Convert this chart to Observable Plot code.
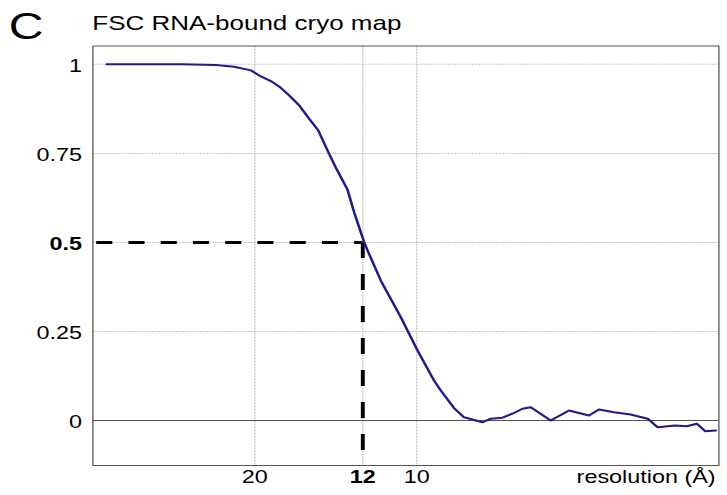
<!DOCTYPE html>
<html><head><meta charset="utf-8">
<script src="https://cdn.jsdelivr.net/npm/d3@7"></script>
<script src="https://cdn.jsdelivr.net/npm/@observablehq/plot@0.6"></script>
<style>
html,body{margin:0;padding:0;background:#fff;overflow:hidden}
#wrap{width:559px;transform:scaleX(1.3);transform-origin:0 0;font-family:"Liberation Sans",Arial,Helvetica,sans-serif;}
</style></head>
<body>
<div id="wrap">
<div id="chart"></div>
</div>
<script>
// ---- data ----
const panelLabel = "C";
const title = "FSC RNA-bound cryo map";
const xLabel = "resolution (Å)";
// spatial frequency (1/Å)
const frequency = [0.00423, 0.0179, 0.02716, 0.03796, 0.04361, 0.04877, 0.05185, 0.05494, 0.0575, 0.06059,
  0.06367, 0.06676, 0.06954, 0.07244, 0.075, 0.07861, 0.08065, 0.08373, 0.08478, 0.08889,
  0.09506, 0.10022, 0.10534, 0.10741, 0.11151, 0.1146, 0.12028, 0.12284, 0.12645, 0.12954,
  0.13262, 0.13519, 0.14136, 0.14701, 0.15318, 0.15627, 0.1609, 0.16605, 0.1713, 0.17438,
  0.17978, 0.18339, 0.18648, 0.18904, 0.19235];
// Fourier shell correlation
const fsc = [1.000, 1.000, 1.000, 0.998, 0.993, 0.983, 0.966, 0.953, 0.938, 0.913,
  0.885, 0.847, 0.815, 0.758, 0.710, 0.648, 0.585, 0.501, 0.478, 0.393,
  0.290, 0.197, 0.112, 0.084, 0.035, 0.009, -0.005, 0.005, 0.008, 0.019,
  0.033, 0.037, 0.000, 0.028, 0.014, 0.031, 0.023, 0.017, 0.005, -0.019,
  -0.014, -0.016, -0.009, -0.030, -0.028];
const yTicks = [1, 0.75, 0.25, 0];
const yTicksBold = [0.5];
const xTickRes = [20, 10];
const xTickResBold = [12];
const threshold = 0.5;
const cutoffRes = 12;

// ---- build ----
const data = frequency.map((f, i) => ({f, v: fsc[i]}));
const W = 559, H = 495;
const xDomain = [0, 0.1933];
const yDomain = [-0.1264, 1.0515];
const font = "Liberation Sans, Arial, Helvetica, sans-serif";

const axisCommon = {tickSize: 0, label: null, fontSize: 18};
const plot = Plot.plot({
  width: W, height: H,
  marginLeft: 71, marginRight: 6.5, marginTop: 45.5, marginBottom: 30,
  style: {fontFamily: font, fontSize: "18px", color: "#000", background: "#fff"},
  x: {domain: xDomain, axis: null},
  y: {domain: yDomain, axis: null},
  marks: [
    Plot.gridX([...xTickRes, ...xTickResBold].map(r => 1 / r), {stroke: "#c4c4c4", strokeOpacity: 1, strokeDasharray: "2,1"}),
    Plot.gridY([...yTicks, ...yTicksBold].filter(d => d !== 0), {stroke: "#c4c4c4", strokeOpacity: 1, strokeDasharray: "1.5,0.8"}),
    Plot.ruleY([0], {stroke: "#555", strokeWidth: 1}),
    Plot.ruleY([threshold], {x1: xDomain[0], x2: 1 / cutoffRes, insetLeft: 3, stroke: "#000", strokeWidth: 3, strokeDasharray: "12.4,12.4"}),
    Plot.ruleX([1 / cutoffRes], {y1: threshold, y2: yDomain[0], stroke: "#000", strokeWidth: 3, strokeDasharray: "16,16"}),
    Plot.line(data, {x: "f", y: "v", stroke: "#1e1b8e", strokeWidth: 2}),
    Plot.frame({stroke: "#555", strokeWidth: 1}),
    Plot.axisY(yTicks, {...axisCommon, tickPadding: 8.5, dy: 2, tickFormat: d => String(d)}),
    Plot.axisY(yTicksBold, {...axisCommon, tickPadding: 8.5, dy: 2, fontWeight: "bold", tickFormat: d => String(d)}),
    Plot.axisX(xTickRes.map(r => 1 / r), {...axisCommon, tickPadding: 4.3, tickFormat: d => String(Math.round(1 / d))}),
    Plot.axisX(xTickResBold.map(r => 1 / r), {...axisCommon, tickPadding: 4.3, fontWeight: "bold", tickFormat: d => String(Math.round(1 / d))}),
    Plot.text([xLabel], {frameAnchor: "bottom-right", textAnchor: "end", lineAnchor: "top", dy: 4.3, dx: -2.5, fontSize: 18})
  ]
});
const svg = d3.select(plot);
svg.append("text").attr("x", 6.7).attr("y", 39).attr("text-anchor", "start")
  .style("font-size", "37px").style("font-family", font).attr("fill", "#000").text(panelLabel);
svg.append("text").attr("x", 71).attr("y", 30).attr("text-anchor", "start")
  .style("font-size", "20px").style("font-family", font).attr("fill", "#000").text(title);
document.getElementById("chart").appendChild(plot);
</script>
</body></html>
